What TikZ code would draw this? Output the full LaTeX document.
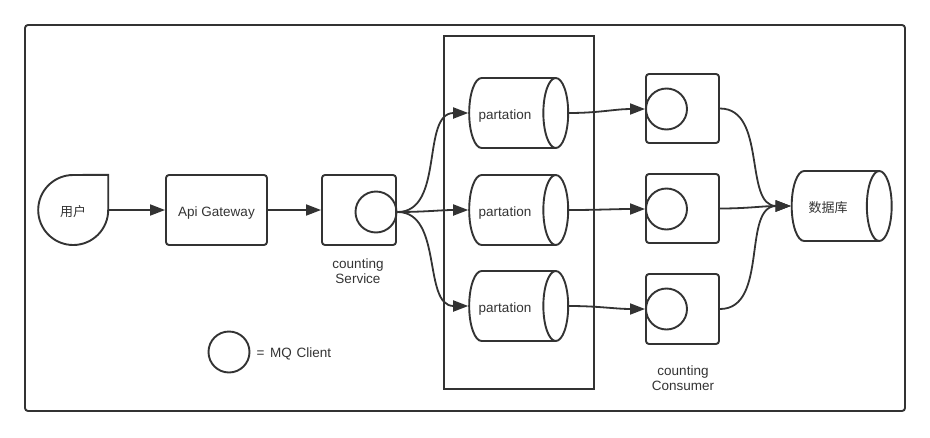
\documentclass[tikz,border=0pt]{standalone}
\usepackage{fontspec}
\setmainfont{Liberation Sans}
\newfontfamily\cjk{Noto Sans CJK SC}
\usetikzlibrary{shapes.geometric,arrows.meta}
\definecolor{ink}{HTML}{333333}
\tikzset{
  line/.style={draw=ink,line width=1.9pt},
  conn/.style={draw=ink,line width=1.8pt,-{Triangle[length=15pt,width=11pt]}},
  rbox/.style={line,rounded corners=3pt,inner sep=0pt},
  low/.style={text height=13.8pt,text depth=0pt},
  cyl/.style={line,cylinder,shape aspect=1.8,minimum height=99pt,minimum width=70pt,inner sep=0pt,font=\fontsize{13.5}{15}\selectfont,text=ink,low,execute at begin node={\kern-14pt}},
  mq/.style={line,circle,minimum size=41pt,inner sep=0pt},
  lbl/.style={font=\fontsize{13.5}{15.5}\selectfont,text=ink,align=center},
}
\begin{document}
\begin{tikzpicture}[x=1pt,y=-1pt]
\useasboundingbox (0,0) rectangle (930,437);
% outer frame
\draw[line,rounded corners=3pt] (25,25) rectangle (905,411);
% partition container
\draw[line] (444,36) rectangle (594,389);
% user
\node[minimum width=70pt,minimum height=70pt,inner sep=0pt,text=ink,font=\cjk\fontsize{13}{15}\selectfont,low] (user) at (73,210) {用户};
\draw[line] (user.north east) -- (user.east) arc[start angle=0,end angle=270,radius=35] -- cycle;
% api gateway
\node[rbox,minimum width=101pt,minimum height=70pt,font=\fontsize{13.5}{15.5}\selectfont,text=ink,low] (api) at (216.5,210) {Api Gateway};
% counting service
\node[rbox,minimum width=74pt,minimum height=70pt] (svc) at (359,210) {};
\node[mq] (svcc) at (376,212) {};
\node[lbl] (svclbl) at (358,271) {counting\\Service};
% partitions
\node[cyl] (p1) at (512,113) {partation};
\node[cyl] (p2) at (512,210) {partation};
\node[cyl] (p3) at (512,306) {partation};
% consumers
\node[rbox,minimum width=73pt,minimum height=69pt] (k1) at (682.5,108.5) {};
\node[rbox,minimum width=73pt,minimum height=69pt] (k2) at (682.5,208.5) {};
\node[rbox,minimum width=73pt,minimum height=70pt] (k3) at (682.5,309) {};
\node[mq] (c1) at (666.5,109) {};
\node[mq] (c2) at (666.5,209) {};
\node[mq] (c3) at (666.5,309) {};
\node[lbl] (conlbl) at (683,378) {counting\\Consumer};
% database
\node[cyl,minimum height=100pt,font=\cjk\fontsize{13}{15}\selectfont] (db) at (835,206) {数据库};
% legend
\node[mq] (leg) at (229,352) {};
\node[lbl,anchor=west] (leglbl) at (253,354) {=\hspace{2pt} MQ\hspace{1pt} Client};
% connectors
\draw[conn] (user.east) to[out=0,in=180] (api.west);
\draw[conn] (api.east) -- (svc.west);
\draw[conn] (svcc.east) to[out=0,in=180] (p1.west);
\draw[conn] (svcc.east) to[out=0,in=180] (p2.west);
\draw[conn] (svcc.east) to[out=0,in=180] (p3.west);
\draw[conn] (p1.east) to[out=0,in=180] (c1.west);
\draw[conn] (p2.east) to[out=0,in=180] (c2.west);
\draw[conn] (p3.east) to[out=0,in=180] (c3.west);
\draw[conn] (k1.east) to[out=0,in=180] (db.west);
\draw[conn] (k2.east) to[out=0,in=180] (db.west);
\draw[conn] (k3.east) to[out=0,in=180] (db.west);
\end{tikzpicture}
\end{document}
